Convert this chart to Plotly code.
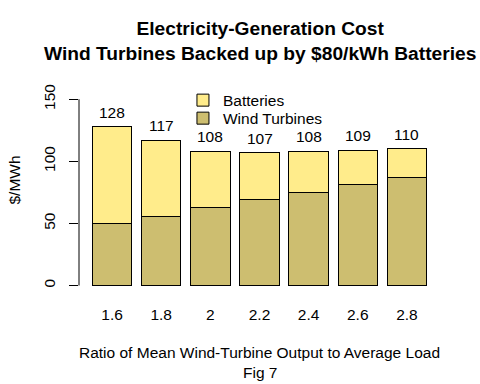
import plotly.graph_objects as go

categories = ["1.6", "1.8", "2", "2.2", "2.4", "2.6", "2.8"]
wind = [50, 56, 63, 69, 75, 81, 87]
totals = [128, 117, 108, 107, 108, 109, 110]
batteries = [t - w for t, w in zip(totals, wind)]
y_ticks = [0, 50, 100, 150]

FONT = "Liberation Sans, Arial, sans-serif"
FS = 15.5
xs = list(range(len(categories)))

fig = go.Figure()
fig.add_trace(go.Bar(x=xs, y=wind, name="Wind Turbines", legend="legend2",
                     marker=dict(color="#CDBE70", line=dict(color="black", width=1))))
fig.add_trace(go.Bar(x=xs, y=batteries, name="Batteries", legend="legend",
                     marker=dict(color="#FFEC8B", line=dict(color="black", width=1))))

for i, t in enumerate(totals):
    fig.add_annotation(x=xs[i], y=t, text=str(t), showarrow=False, yanchor="bottom",
                       yshift=4, font=dict(size=FS, color="black", family=FONT))

fig.add_shape(type="line", xref="paper", yref="y", x0=0, x1=0,
              y0=y_ticks[0], y1=y_ticks[-1], line=dict(color="black", width=1))

fig.add_annotation(xref="paper", yref="paper", x=0.5, y=1, yshift=25, yanchor="middle",
                   showarrow=False,
                   text="<b>Electricity-Generation Cost<br>Wind Turbines Backed up by $80/kWh Batteries</b>",
                   font=dict(size=19.2, color="black", family=FONT))
fig.add_annotation(xref="paper", yref="paper", x=0.5, y=0, yshift=-58.5, yanchor="middle",
                   showarrow=False, text="Ratio of Mean Wind-Turbine Output to Average Load",
                   font=dict(size=FS, color="black", family=FONT))
fig.add_annotation(xref="paper", yref="paper", x=0.5, y=0, yshift=-78.5, yanchor="middle",
                   showarrow=False, text="Fig 7",
                   font=dict(size=FS, color="black", family=FONT))
fig.add_annotation(xref="paper", yref="paper", x=0, xshift=-65.5, y=0.5, xanchor="center",
                   yanchor="middle", textangle=-90, showarrow=False, text="$/MWh",
                   font=dict(size=FS, color="black", family=FONT))

leg = dict(x=0.288, xanchor="left", yanchor="top", bgcolor="rgba(0,0,0,0)",
           font=dict(size=FS, family=FONT))
fig.update_layout(
    width=480, height=384,
    margin=dict(l=79, r=40, t=66, b=90),
    paper_bgcolor="white", plot_bgcolor="white",
    barmode="stack", bargap=0.2,
    font=dict(family=FONT, size=FS, color="black"),
    showlegend=True,
    legend=dict(y=0.923, **leg),
    legend2=dict(y=0.844, **leg),
    xaxis=dict(tickmode="array", tickvals=xs, ticktext=categories, range=[-0.673, 6.673],
               showline=False, showgrid=False, zeroline=False, ticks="",
               ticklabelstandoff=9),
    yaxis=dict(tickmode="array", tickvals=y_ticks, range=[-6.8, 176.8], tickangle=-90,
               showline=False, showgrid=False, zeroline=False, ticks="outside", ticklen=9,
               tickcolor="black", ticklabelstandoff=8),
)

fig.write_html("out.html", config={"displayModeBar": False},
               post_script="document.body.style.margin='0';document.body.style.overflow='hidden';")
